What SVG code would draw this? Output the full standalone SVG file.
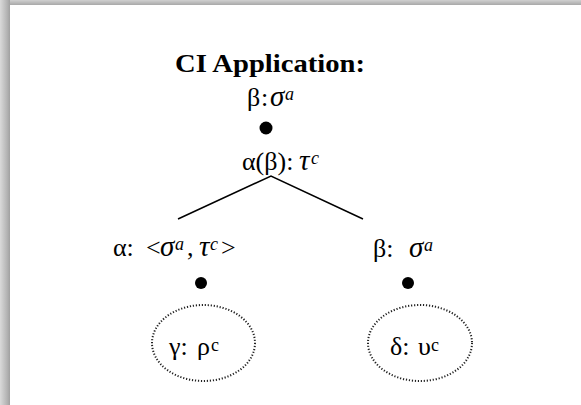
<svg xmlns="http://www.w3.org/2000/svg" width="581" height="405" viewBox="0 0 581 405">
<defs>
<linearGradient id="shL" x1="0" y1="0" x2="1" y2="0">
<stop offset="0" stop-color="#dadada"/><stop offset="0.7" stop-color="#b4b4b4"/><stop offset="1" stop-color="#a0a0a0"/>
</linearGradient>
<linearGradient id="shT" x1="0" y1="0" x2="0" y2="1">
<stop offset="0" stop-color="#d0d0d0"/><stop offset="1" stop-color="#a8a8a8"/>
</linearGradient>
<style>
.t{font-family:"Liberation Serif","Times New Roman",serif;font-size:26px;fill:#000}
.i{font-style:italic}
.g{font-size:29px}
.s{font-size:18px}
.dot{fill:#000}
.ell{fill:none;stroke:#222;stroke-width:2;stroke-dasharray:1.2 1.8}
.ln{stroke:#000;stroke-width:1.5;fill:none}
</style>
</defs>
<rect width="581" height="405" fill="#fff"/>
<rect x="0" y="0" width="581" height="5" fill="url(#shT)"/>
<rect x="0" y="0" width="10" height="405" fill="url(#shL)"/>
<g id="title"><text class="t" x="175" y="72" font-weight="bold" textLength="190" lengthAdjust="spacingAndGlyphs">CI Application:</text></g>
<g id="root">
<text class="t" y="106"><tspan x="247">β</tspan><tspan x="261">:</tspan><tspan class="i g" x="270">σ</tspan><tspan class="i s" x="285" y="100">a</tspan></text>
<circle class="dot" cx="266" cy="128" r="6.5"/>
<text class="t" y="170"><tspan x="242">α(β):</tspan><tspan class="i g" x="299">τ</tspan><tspan class="i s" x="311" y="164">c</tspan></text>
</g>
<g id="connectors">
<polyline class="ln" points="178,219 271,176 363,219"/>
</g>
<g id="left">
<text class="t" y="256"><tspan x="113">α:</tspan><tspan x="146">&lt;</tspan><tspan class="i g" x="160">σ</tspan><tspan class="i s" x="175" y="250">a</tspan><tspan x="187" y="256">,</tspan><tspan class="i g" x="199">τ</tspan><tspan class="i s" x="210" y="250">c</tspan><tspan x="221" y="256">&gt;</tspan></text>
<circle class="dot" cx="201" cy="283" r="6"/>
</g>
<g id="right">
<text class="t" y="257"><tspan x="373">β:</tspan><tspan class="i g" x="409">σ</tspan><tspan class="i s" x="424" y="251">a</tspan></text>
<circle class="dot" cx="408" cy="283" r="6"/>
</g>
<g id="gamma">
<ellipse class="ell" cx="203.5" cy="343" rx="51.5" ry="38"/>
<text class="t" y="355"><tspan x="169">γ:</tspan><tspan x="197">ρ</tspan><tspan class="s" x="211" y="351">c</tspan></text>
</g>
<g id="delta">
<ellipse class="ell" cx="420" cy="343" rx="52" ry="38"/>
<text class="t" y="355"><tspan x="390">δ:</tspan><tspan x="418">υ</tspan><tspan class="s" x="431" y="351">c</tspan></text>
</g>
</svg>
